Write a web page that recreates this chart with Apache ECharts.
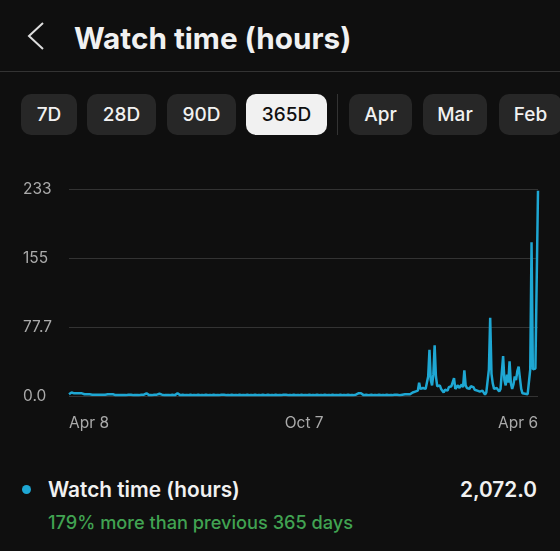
<!DOCTYPE html>
<html>
<head>
<meta charset="utf-8">
<script src="https://cdn.jsdelivr.net/npm/echarts@6/dist/echarts.min.js"></script>
<style>
  html, body {
    margin: 0;
    padding: 0;
    width: 560px;
    height: 551px;
    overflow: hidden;
    background: #0f0f0f;
    font-family: Inter, "Noto Sans", Roboto, sans-serif;
    color: #f1f1f1;
  }
  .abs { position: absolute; }
  .title {
    left: 74px; top: 23px;
    font-size: 29.7px; line-height: 30px; font-weight: 700;
    white-space: nowrap;
  }
  .divider { left: 0; top: 71px; width: 560px; height: 1px; background: #333; }
  .btn {
    top: 94px; height: 41px;
    border-radius: 10px;
    background: #272727;
    font-size: 19px; font-weight: 500;
    line-height: 41px; text-align: center;
    color: #f1f1f1;
  }
  .btn.active { background: #f1f1f1; color: #0f0f0f; }
  .sep { left: 337px; top: 94px; width: 1px; height: 41px; background: #333; }
  #chart { left: 0; top: 150px; width: 560px; height: 300px; }
  .dot { left: 22px; top: 485px; width: 9px; height: 9px; border-radius: 50%; background: #1ea7d3; }
  .legend {
    top: 479px; font-size: 20.8px; line-height: 21px; font-weight: 600;
    white-space: nowrap;
  }
  .note {
    left: 48px; top: 513px; font-size: 18.2px; line-height: 18px; font-weight: 500;
    color: #41a352; white-space: nowrap;
  }
</style>
</head>
<body>
<svg class="abs" style="left:0;top:0" width="60" height="70">
  <polyline points="43,23 29,36 43,49" fill="none" stroke="#dddddd" stroke-width="2" />
</svg>
<div class="abs title">Watch time (hours)</div>
<div class="abs divider"></div>

<div class="abs btn" style="left:21px;width:56px">7D</div>
<div class="abs btn" style="left:87px;width:69px">28D</div>
<div class="abs btn" style="left:167px;width:69px">90D</div>
<div class="abs btn active" style="left:246px;width:81px">365D</div>
<div class="abs sep"></div>
<div class="abs btn" style="left:349px;width:63px">Apr</div>
<div class="abs btn" style="left:423px;width:64px">Mar</div>
<div class="abs btn" style="left:499px;width:63px">Feb</div>

<div id="chart" class="abs"></div>

<div class="abs dot"></div>
<div class="abs legend" style="left:48px">Watch time (hours)</div>
<div class="abs legend" style="right:23px">2,072.0</div>
<div class="abs note">179% more than previous 365 days</div>

<script>
// daily watch time, Apr 8 2024 .. Apr 6 2025
const watchHours = [
  2, 3, 4, 2, 3, 4, 3, 2, 3, 2, 3, 2, 2, 3, 2, 3, 2, 2, 1.5, 1.5,
  1.5, 1, 1.5, 1, 1.5, 1, 1.5, 1, 1.5, 3, 2, 3, 2, 3, 2, 1.5, 1, 1.5, 1, 1.5,
  1, 1.5, 1, 1.5, 1, 3, 1.5, 1, 1.5, 1, 1, 1.5, 1, 1.5, 1, 1, 1.5, 1, 1.5, 1,
  3, 1.5, 1, 1.5, 1, 1, 1.5, 1, 1.5, 1, 2.5, 1, 1.5, 1, 1, 1.5, 1, 1.5, 1, 1,
  1.5, 1, 1, 1.5, 3, 1.5, 1, 1, 1.5, 1, 1, 1.5, 1, 1, 1.5, 1, 1, 1.5, 1, 1,
  1.5, 1, 1, 1.5, 1, 1, 1.5, 1, 1, 1.5, 1, 1, 1.5, 1, 1, 1.5, 1, 1, 1.5, 3,
  1.5, 1, 1, 1.5, 1, 1, 1.5, 1, 1, 1.5, 1, 1, 1.5, 1, 1, 1.5, 1, 1, 1.5, 1,
  1, 1.5, 1, 1, 1.5, 1, 1, 1.5, 1, 1, 1.5, 1, 1, 3, 1.5, 1, 1, 1.5, 1, 1,
  1.5, 1, 1, 1.5, 1, 1, 1.5, 3, 1.5, 1, 1, 1.5, 1, 1, 1.5, 1, 1, 1.5, 1, 1,
  1.5, 1, 1, 1.5, 1, 1, 1.5, 1, 1, 1.5, 1, 1, 1.5, 1, 1, 1.5, 1, 1, 1.5, 1,
  1, 1.5, 1, 1, 1.5, 1, 1, 1.5, 1, 1, 1.5, 1, 1, 1.5, 1, 1, 1.5, 1, 1, 1.5,
  1, 1, 1.5, 1, 3, 1.5, 3, 1.5, 1, 1, 1.5, 1, 1, 3, 1.5, 1, 1, 1.5, 1, 1,
  1.5, 1, 1, 1.5, 1, 1, 1.5, 1, 1, 1.5, 1, 1, 1.5, 1, 1.5, 1.5, 1, 2, 1.5, 1,
  2, 1.5, 2, 1.5, 2, 3, 4, 3, 5, 4, 6, 15, 8, 6, 9, 7, 8, 10, 22, 52,
  18, 12, 24, 57, 22, 11, 9, 12, 8, 10, 4, 7, 9, 6, 10, 8, 11, 9, 20, 8,
  10, 12, 9, 11, 13, 10, 29, 12, 9, 10, 8, 11, 9, 10, 7, 8, 6, 8, 5, 7,
  6, 5, 1.5, 4, 6, 30, 88, 25, 14, 8, 6, 9, 7, 5, 8, 6, 45, 18, 12, 24,
  15, 39, 14, 8, 13, 22, 18, 28, 33, 20, 8, 3, 2, 2.5, 3, 2, 4, 30, 173, 30,
  28, 31, 29, 231
];

const xTickLabels = ['Apr 8', 'Oct 7', 'Apr 6'];
const yTickLabels = ['0.0', '77.7', '155', '233'];

const monthNames = ['Jan', 'Feb', 'Mar', 'Apr', 'May', 'Jun', 'Jul', 'Aug', 'Sep', 'Oct', 'Nov', 'Dec'];
const startDay = Date.UTC(2024, 3, 8);
const days = watchHours.map((_, i) => {
  const d = new Date(startDay + i * 86400000);
  return monthNames[d.getUTCMonth()] + ' ' + d.getUTCDate();
});

const chart = echarts.init(document.getElementById('chart'));
chart.setOption({
  animation: false,
  grid: { left: 69, right: 22, top: 39, bottom: 54 },
  xAxis: {
    type: 'category',
    data: days,
    boundaryGap: false,
    axisLine: { show: false },
    axisTick: { show: false },
    splitLine: { show: false },
    axisLabel: {
      interval: (i, v) => xTickLabels.indexOf(v) >= 0,
      color: '#aaaaaa',
      fontSize: 15.5,
      fontFamily: 'Inter',
      margin: 19,
      alignMinLabel: 'left',
      alignMaxLabel: 'right',
    },
  },
  yAxis: {
    type: 'value',
    min: 0,
    max: 233,
    interval: 233 / 3,
    axisLine: { show: false },
    axisTick: { show: false },
    splitLine: { lineStyle: { color: '#333333', width: 1 } },
    axisLabel: {
      formatter: (v, i) => yTickLabels[i],
      align: 'left',
      margin: 46,
      color: '#aaaaaa',
      fontSize: 15.5,
      fontFamily: 'Inter',
    },
  },
  series: [
    {
      name: 'Watch time (hours)',
      type: 'line',
      data: watchHours,
      symbol: 'none',
      lineStyle: { color: '#1ea7d3', width: 2.5 },
      itemStyle: { color: '#1ea7d3' },
    },
  ],
});
</script>
</body>
</html>
